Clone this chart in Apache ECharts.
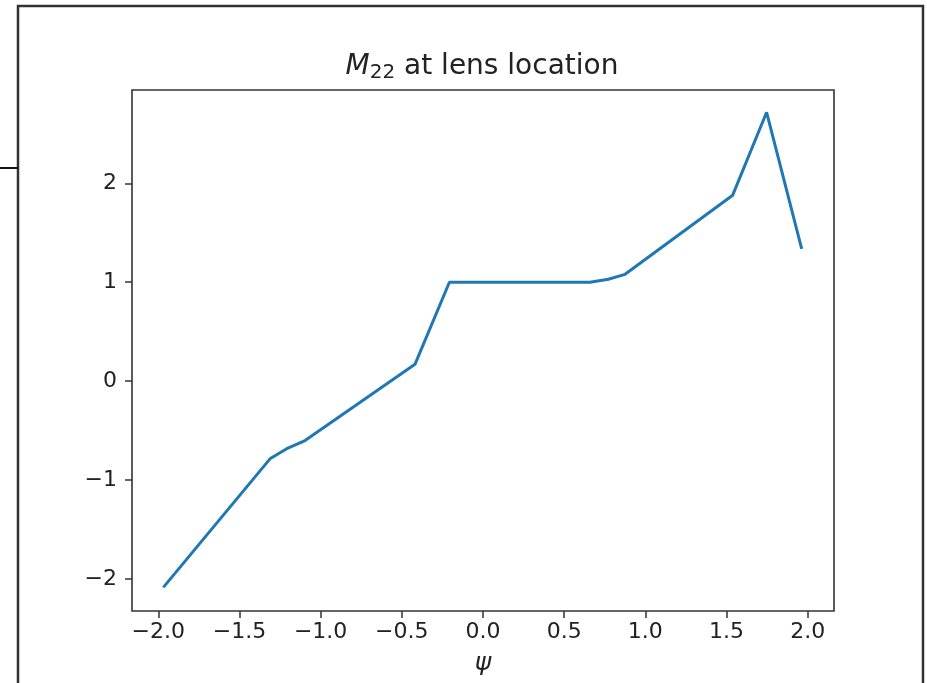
<!DOCTYPE html>
<html>
<head>
<meta charset="utf-8">
<script src="https://cdn.jsdelivr.net/npm/echarts@6/dist/echarts.min.js"></script>
<style>
html,body{margin:0;padding:0;background:#fff;}
#c{width:927px;height:683px;}
</style>
</head>
<body>
<div id="c"></div>
<script>
// data
const psi = [-1.969, -1.312, -1.209, -1.096, -0.419, -0.207, 0.659, 0.772, 0.875, 1.538, 1.747, 1.963];
const m22 = [-2.084, -0.785, -0.683, -0.600, 0.170, 1.000, 1.000, 1.030, 1.080, 1.880, 2.718, 1.336];
const xTicks = [-2.0, -1.5, -1.0, -0.5, 0.0, 0.5, 1.0, 1.5, 2.0];
const yTicks = [-2, -1, 0, 1, 2];

const FONT = 'DejaVu Sans';
const fmt = (d) => (v) => (v < 0 ? '\u2212' : '') + Math.abs(v).toFixed(d);

const chart = echarts.init(document.getElementById('c'), null, {renderer: 'canvas'});
chart.setOption({
  animation: false,
  backgroundColor: '#fff',
  grid: {left: 132, top: 90, right: 93, bottom: 72, show: true, borderColor: '#333', borderWidth: 1.6, backgroundColor: 'transparent'},
  xAxis: {
    type: 'value', min: -2.162, max: 2.162,
    axisLine: {show: false, onZero: false},
    splitLine: {show: false},
    axisTick: {show: true, length: 7, customValues: xTicks, lineStyle: {color: '#333', width: 1.5}},
    axisLabel: {customValues: xTicks, formatter: fmt(1), margin: 10, fontFamily: FONT, fontSize: 22, color: '#222'},
    name: '\u03c8', nameLocation: 'middle', nameGap: 40,
    nameTextStyle: {fontFamily: FONT, fontStyle: 'italic', fontSize: 25, color: '#222'}
  },
  yAxis: {
    type: 'value', min: -2.323, max: 2.943,
    axisLine: {show: false, onZero: false},
    splitLine: {show: false},
    axisTick: {show: true, length: 7, customValues: yTicks, lineStyle: {color: '#333', width: 1.5}},
    axisLabel: {customValues: yTicks, formatter: fmt(0), margin: 15, fontFamily: FONT, fontSize: 22, color: '#222'}
  },
  series: [{
    type: 'line',
    data: psi.map((x, i) => [x, m22[i]]),
    showSymbol: false,
    symbol: 'none',
    lineStyle: {color: '#1f77b4', width: 3},
    silent: true
  }],
  graphic: [
    {type: 'rect', shape: {x: 18, y: 6, width: 905, height: 720}, style: {fill: 'none', stroke: '#333', lineWidth: 2.5}, silent: true},
    {type: 'line', shape: {x1: 0, y1: 168, x2: 18, y2: 168}, style: {stroke: '#111', lineWidth: 2}, silent: true},
    {type: 'text', x: 482, y: 67, style: {
      text: '{m|M}{s|22}{t| at lens location}',
      align: 'center', verticalAlign: 'middle',
      rich: {
        m: {fontFamily: FONT, fontStyle: 'italic', fontSize: 28, fill: '#222'},
        s: {fontFamily: FONT, fontSize: 20, fill: '#222', padding: [11, 0, 0, 0]},
        t: {fontFamily: FONT, fontSize: 28, fill: '#222'}
      }
    }, silent: true}
  ]
});
</script>
</body>
</html>
